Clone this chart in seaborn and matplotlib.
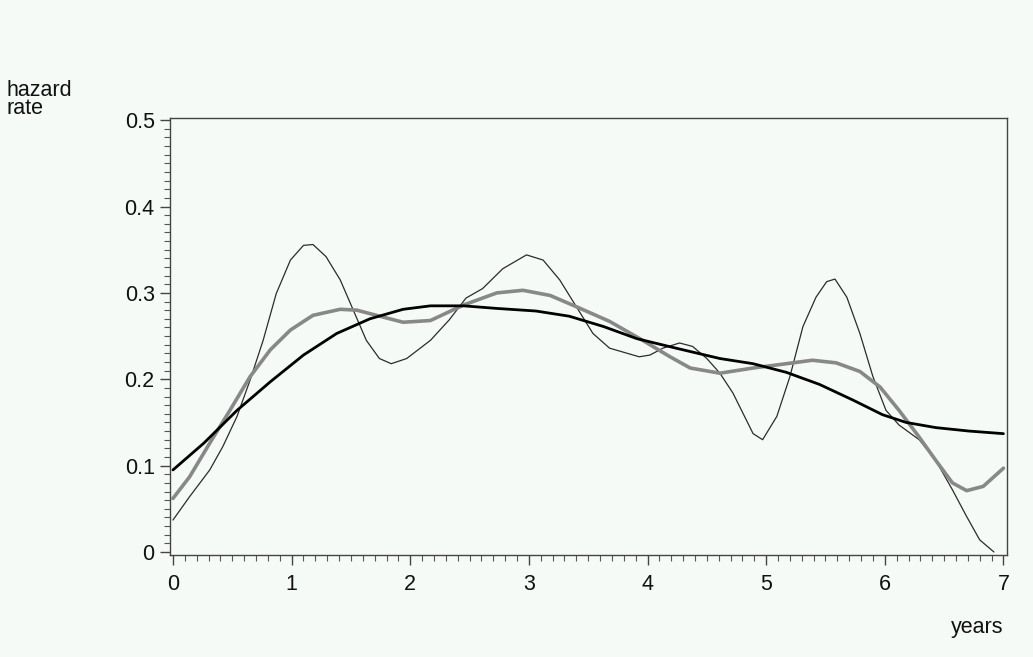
import numpy as np
import pandas as pd
import matplotlib
matplotlib.use('Agg')
import matplotlib.pyplot as plt
import seaborn as sns
from matplotlib.ticker import MultipleLocator, FuncFormatter

# thin, wiggly estimate
thin_x = [0, 0.14, 0.31, 0.42, 0.54, 0.65, 0.76, 0.87, 0.99, 1.10, 1.18, 1.29, 1.41,
          1.52, 1.63, 1.74, 1.84, 1.97, 2.17, 2.33, 2.47, 2.61, 2.78, 2.98, 3.12, 3.26,
          3.40, 3.54, 3.68, 3.93, 4.02, 4.13, 4.27, 4.38, 4.50, 4.61, 4.72, 4.89, 4.97,
          5.09, 5.20, 5.31, 5.42, 5.51, 5.58, 5.68, 5.79, 5.90, 6.01, 6.12, 6.29, 6.43,
          6.57, 6.69, 6.80, 6.92]
thin_y = [0.037, 0.064, 0.095, 0.122, 0.157, 0.199, 0.245, 0.299, 0.338, 0.355, 0.356,
          0.342, 0.315, 0.280, 0.245, 0.224, 0.218, 0.224, 0.245, 0.269, 0.294, 0.305,
          0.328, 0.344, 0.338, 0.315, 0.284, 0.253, 0.236, 0.226, 0.228, 0.236, 0.242,
          0.238, 0.224, 0.207, 0.184, 0.137, 0.130, 0.157, 0.203, 0.261, 0.295, 0.313,
          0.316, 0.295, 0.253, 0.203, 0.164, 0.147, 0.130, 0.106, 0.072, 0.041, 0.014,
          0.000]

# medium gray estimate
gray_x = [0, 0.14, 0.31, 0.48, 0.65, 0.82, 0.99, 1.18, 1.41, 1.55, 1.77, 1.94, 2.17,
          2.45, 2.73, 2.95, 3.18, 3.40, 3.68, 3.96, 4.19, 4.36, 4.61, 4.89, 5.17, 5.39,
          5.59, 5.79, 5.96, 6.12, 6.29, 6.43, 6.57, 6.69, 6.83, 7.0]
gray_y = [0.062, 0.087, 0.126, 0.164, 0.203, 0.234, 0.257, 0.274, 0.281, 0.280, 0.272,
          0.266, 0.268, 0.286, 0.300, 0.303, 0.297, 0.284, 0.267, 0.245, 0.226, 0.213,
          0.207, 0.213, 0.218, 0.222, 0.219, 0.209, 0.191, 0.164, 0.133, 0.106, 0.080,
          0.071, 0.076, 0.097]

# smooth black estimate
black_x = [0, 0.26, 0.54, 0.82, 1.10, 1.38, 1.66, 1.94, 2.17, 2.45, 2.73, 3.06, 3.34,
           3.63, 3.91, 4.24, 4.61, 4.89, 5.17, 5.45, 5.73, 5.98, 6.18, 6.43, 6.71, 7.0]
black_y = [0.095, 0.126, 0.164, 0.197, 0.228, 0.253, 0.270, 0.281, 0.285, 0.285, 0.282,
           0.279, 0.273, 0.261, 0.247, 0.236, 0.224, 0.218, 0.208, 0.194, 0.176, 0.159,
           0.150, 0.144, 0.140, 0.137]

bg = '#f6faf7'
sns.set_style('ticks')
plt.rcParams['font.family'] = ['Liberation Sans', 'DejaVu Sans']

fig = plt.figure(figsize=(10.33, 6.57), dpi=100, facecolor=bg)
ax = fig.add_axes([170 / 1033, 1 - 555 / 657, 837 / 1033, 437 / 657])
ax.set_facecolor(bg)

sns.lineplot(x=thin_x, y=thin_y, ax=ax, color='#2b2b2b', linewidth=0.9)
sns.lineplot(x=gray_x, y=gray_y, ax=ax, color='#888888', linewidth=2.6)
sns.lineplot(x=black_x, y=black_y, ax=ax, color='black', linewidth=2.0)

ax.set_xlim(-0.025, 7.03)
ax.set_ylim(-0.0035, 0.5025)
ax.xaxis.set_major_locator(MultipleLocator(1))
ax.xaxis.set_minor_locator(MultipleLocator(0.1))
ax.yaxis.set_major_locator(MultipleLocator(0.1))
ax.yaxis.set_minor_locator(MultipleLocator(0.01))
ax.yaxis.set_major_formatter(FuncFormatter(lambda v, p: '0' if abs(v) < 1e-9 else f'{v:.1f}'))

for s in ax.spines.values():
    s.set_color('#444444')
    s.set_linewidth(1.0)
ax.tick_params(which='major', length=7, width=1, color='#444444', labelsize=15.5,
               labelcolor='#111111', pad=4)
ax.tick_params(which='minor', length=4, width=0.8, color='#555555')
ax.tick_params(axis='x', pad=7)
ax.set_xlabel('')
ax.set_ylabel('')

fig.text(6 / 1033, 1 - 90 / 657, 'hazard', fontsize=15.5, va='center', ha='left', color='#111111')
fig.text(6 / 1033, 1 - 109 / 657, 'rate', fontsize=15.5, va='center', ha='left', color='#111111')
fig.text(1003 / 1033, 1 - 628 / 657, 'years', fontsize=15.5, va='center', ha='right', color='#111111')

fig.savefig('out.png', dpi=100, facecolor=bg)
